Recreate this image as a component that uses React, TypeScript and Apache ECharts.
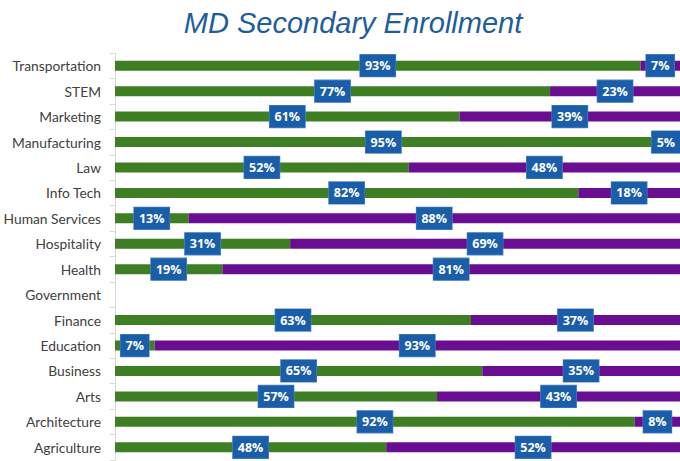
import React, { useEffect, useRef } from "react";
import * as echarts from "echarts";

const categories = [
  "Agriculture", "Architecture", "Arts", "Business", "Education", "Finance",
  "Government", "Health", "Hospitality", "Human Services", "Info Tech", "Law",
  "Manufacturing", "Marketing", "STEM", "Transportation",
];
const greenValues = [48, 92, 57, 65, 7, 63, null, 19, 31, 13, 82, 52, 95, 61, 77, 93];
const purpleValues = [52, 8, 43, 35, 93, 37, null, 81, 69, 88, 18, 48, 5, 39, 23, 7];

const GREEN = "#3D7F22";
const PURPLE = "#6A0E91";
const LABEL_BG = "#1A5DA8";

export default function App() {
  const ref = useRef<HTMLDivElement>(null);
  useEffect(() => {
    document.body.style.margin = "0";
    const chart = echarts.init(ref.current!, null, { renderer: "svg" });
    const label = {
      show: true,
      position: "inside",
      formatter: (p: any) => (p.value == null ? "" : p.value + "%"),
      color: "#ffffff",
      fontFamily: "Open Sans",
      fontWeight: "bold",
      fontSize: 12.5,
      lineHeight: 13,
      backgroundColor: LABEL_BG,
      borderColor: "#4f86c6",
      borderWidth: 0.6,
      padding: [5, 5, 4, 5],
    };
    chart.setOption({
      animation: false,
      title: {
        text: "MD Secondary Enrollment",
        left: 348,
        textAlign: "center",
        top: 3,
        textStyle: {
          fontFamily: "Liberation Sans",
          fontStyle: "italic",
          fontWeight: "normal",
          fontSize: 29,
          color: "#1F5D99",
        },
      },
      grid: { left: 115, right: 0, top: 53, bottom: 1 },
      xAxis: {
        type: "value",
        min: 0,
        max: 100,
        show: false,
      },
      yAxis: {
        type: "category",
        data: categories,
        axisLine: { show: true, lineStyle: { color: "#D9D9D9", width: 1 } },
        axisTick: { show: true, length: 5, lineStyle: { color: "#D9D9D9" } },
        axisLabel: {
          fontFamily: "Lato",
          fontSize: 13.8,
          color: "#404040",
          margin: 14,
        },
      },
      series: [
        {
          type: "bar",
          stack: "s",
          data: greenValues,
          barWidth: 10,
          itemStyle: { color: GREEN },
          label,
        },
        {
          type: "bar",
          stack: "s",
          data: purpleValues,
          barWidth: 10,
          itemStyle: { color: PURPLE },
          label,
        },
      ],
    });
    return () => chart.dispose();
  }, []);
  return <div ref={ref} style={{ width: 680, height: 461 }} />;
}
